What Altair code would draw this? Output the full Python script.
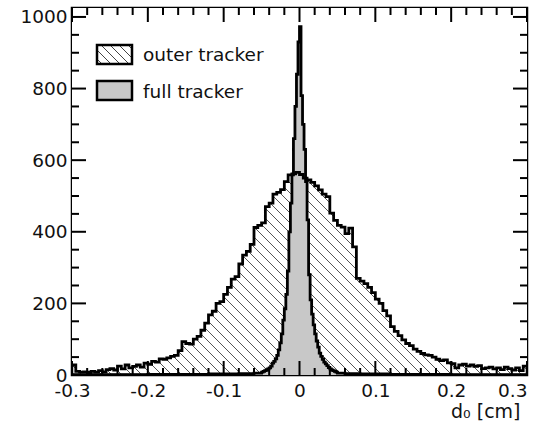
import altair as alt
import pandas as pd
import numpy as np

# ---------------- data ----------------
XMIN, XMAX = -0.3, 0.3
YMAX = 1025
BIN_START = -0.300
BIN_W = 0.005
# outer tracker, 120 bins of 0.005 from -0.3 to 0.3 (counts)
OUTER = [
    28, 10, 8, 9, 7, 10, 8, 12, 9, 15,          # -0.300 .. -0.255
    18, 14, 25, 17, 28, 20, 24, 28, 22, 33,     # -0.250 .. -0.205
    30, 38, 36, 45, 44, 48, 52, 55, 68, 93,     # -0.200 .. -0.155
    88, 86, 100, 108, 125, 145, 168, 178, 200, 205,   # -0.150 .. -0.105
    225, 245, 268, 275, 310, 335, 345, 365, 412, 418, # -0.100 .. -0.055
    425, 470, 480, 505, 510, 518, 540, 559, 562, 566, # -0.050 .. -0.005
    560, 550, 545, 538, 528, 517, 505, 498, 452, 432, #  0.000 ..  0.045
    418, 413, 395, 410, 358, 270, 262, 255, 245, 230, #  0.050 ..  0.095
    212, 200, 180, 165, 135, 122, 110, 98, 88, 82,    #  0.100 ..  0.145
    72, 66, 60, 56, 55, 50, 44, 40, 42, 34,           #  0.150 ..  0.195
    32, 20, 28, 30, 25, 28, 24, 26, 18, 20,           #  0.200 ..  0.245
    22, 17, 20, 15, 22, 18, 14, 20, 12, 25,           #  0.250 ..  0.295
]
# full tracker: coarse tails + fine 0.002 bins in the core
FULL_TAIL_L_X = [-0.300, -0.200, -0.120, -0.080, -0.060]
FULL_TAIL_L_Y = [1, 2, 3, 4, 5]
FULL_FINE_START = -0.050
FULL_FINE_W = 0.002
FULL_FINE = [
    8, 10, 12, 14, 17, 20, 25, 33, 38, 45,
    55, 70, 90, 115, 153, 185, 225, 290, 400, 480,
    559, 660, 750, 840, 930, 973, 780, 700, 630, 540,
    433, 280, 210, 170, 140, 115, 95, 78, 61, 52,
    44, 36, 31, 26, 21, 17, 14, 12, 10, 8,
]
FULL_TAIL_R_X = [0.050, 0.060, 0.080, 0.120, 0.200]
FULL_TAIL_R_Y = [5, 4, 3, 2, 1]

X_LABELS = [-0.3, -0.2, -0.1, 0.0, 0.1, 0.2, 0.3]
Y_LABELS = [0, 200, 400, 600, 800, 1000]
LEGEND = ["outer tracker", "full tracker"]
XTITLE = "d\u2080 [cm]"

# ---------------- layout ----------------
W, H = 455, 367
SX = W / (XMAX - XMIN)
SY = H / YMAX
FONT = "DejaVu Sans"
FS = 18.5


def px2x(px):
    return XMIN + px / SX


def py2y(py):
    return YMAX - py / SY


# histogram tables (left edges, step-after, closing point at right end)
ox = [round(BIN_START + i * BIN_W, 4) for i in range(len(OUTER))] + [XMAX]
oy = OUTER + [OUTER[-1]]
outer_df = pd.DataFrame({"x": ox, "v": oy, "top": YMAX})

fine_x = [round(FULL_FINE_START + i * FULL_FINE_W, 4) for i in range(len(FULL_FINE))]
fx = FULL_TAIL_L_X + fine_x + FULL_TAIL_R_X + [XMAX]
fy = FULL_TAIL_L_Y + FULL_FINE + FULL_TAIL_R_Y + [FULL_TAIL_R_Y[-1]]
full_df = pd.DataFrame({"x": fx, "v": fy})


def hatch_segments(x0, y0, w, h, step, start=None):
    rows = []
    c = -h if start is None else start
    while c < w:
        p0 = max(0, c)
        p1 = min(w, h + c)
        if p1 > p0:
            rows.append({"x": px2x(x0 + p0), "y": py2y(y0 + p0 - c),
                         "x2": px2x(x0 + p1), "y2": py2y(y0 + p1 - c)})
        c += step
    return pd.DataFrame(rows)


hatch_df = hatch_segments(0, 0, W, H, 10)

# inward ticks on all four sides
tick_rows = []
for k in range(31):
    t = round(XMIN + k * 0.02, 3)
    major = (k % 5 == 0)
    L = (14 if major else 7) / SY
    tick_rows.append({"x": t, "y": 0, "x2": t, "y2": L})
    tick_rows.append({"x": t, "y": YMAX, "x2": t, "y2": YMAX - L})
for k in range(21):
    v = k * 50
    major = (k % 4 == 0)
    L = (14 if major else 7) / SX
    tick_rows.append({"x": XMIN, "y": v, "x2": XMIN + L, "y2": v})
    tick_rows.append({"x": XMAX, "y": v, "x2": XMAX - L, "y2": v})
tick_df = pd.DataFrame(tick_rows)

# legend
sw = [(25, 37), (25, 73)]
SWW, SWH = 35, 19
swatch_df = pd.DataFrame([
    {"x": px2x(a), "y": py2y(b), "x2": px2x(a + SWW), "y2": py2y(b + SWH), "k": i}
    for i, (a, b) in enumerate(sw)
])
leg_hatch_df = hatch_segments(sw[0][0], sw[0][1], SWW, SWH, 9, start=-14)
leg_text_df = pd.DataFrame({"x": [px2x(71), px2x(71)],
                            "y": [py2y(47), py2y(84)],
                            "t": LEGEND})

xscale = alt.Scale(domain=[XMIN, XMAX], nice=False, zero=False)
yscale = alt.Scale(domain=[0, YMAX], nice=False, zero=True)

xaxis = alt.Axis(
    values=X_LABELS,
    labelExpr="(datum.value < -0.0001 ? '-' : '') + format(abs(datum.value), '.1~f')",
    labelAlign={"condition": {"test": "datum.value > 0.29", "value": "right"}, "value": "center"},
    ticks=False, domain=False, grid=False,
    labelFont=FONT, labelFontSize=FS, labelColor="#111", labelPadding=6,
    title=XTITLE, titleFont=FONT, titleFontSize=19, titleFontWeight="normal",
    titleColor="#111", titleX=448, titleY=42, titleAlign="right",
    titleBaseline="alphabetic",
)
yaxis = alt.Axis(
    values=Y_LABELS, format="d", ticks=False, domain=False, grid=False,
    labelFont=FONT, labelFontSize=FS, labelColor="#111", labelPadding=5,
    title=None,
)


def X(f="x"):
    return alt.X(f"{f}:Q", scale=xscale, axis=xaxis)


def Y(f="y"):
    return alt.Y(f"{f}:Q", scale=yscale, axis=yaxis)


hatch = alt.Chart(hatch_df).mark_rule(color="#555", strokeWidth=1).encode(
    x=X("x"), y=Y("y"), x2="x2:Q", y2="y2:Q")

mask = alt.Chart(outer_df).mark_area(interpolate="step-after", color="white").encode(
    x=X("x"), y=Y("v"), y2="top:Q")

full_fill = alt.Chart(full_df).mark_area(interpolate="step-after", color="#c8c8c8").encode(
    x=X("x"), y=Y("v"))

outer_line = alt.Chart(outer_df).mark_line(
    interpolate="step-after", color="black", strokeWidth=2.8, strokeJoin="miter").encode(
    x=X("x"), y=Y("v"))

full_line = alt.Chart(full_df).mark_line(
    interpolate="step-after", color="black", strokeWidth=2.8).encode(
    x=X("x"), y=Y("v"))

ticks = alt.Chart(tick_df).mark_rule(color="black", strokeWidth=2).encode(
    x=X("x"), y=Y("y"), x2="x2:Q", y2="y2:Q")

swatch_fill = alt.Chart(swatch_df).mark_rect(stroke=None).encode(
    x=X("x"), y=Y("y"), x2="x2:Q", y2="y2:Q",
    color=alt.Color("k:N", scale=alt.Scale(domain=[0, 1], range=["white", "#c8c8c8"]), legend=None))

leg_hatch = alt.Chart(leg_hatch_df).mark_rule(color="#444", strokeWidth=1).encode(
    x=X("x"), y=Y("y"), x2="x2:Q", y2="y2:Q")

swatch_border = alt.Chart(swatch_df).mark_rect(
    fillOpacity=0, stroke="black", strokeWidth=2.5).encode(
    x=X("x"), y=Y("y"), x2="x2:Q", y2="y2:Q")

leg_text = alt.Chart(leg_text_df).mark_text(
    align="left", baseline="middle", font=FONT, fontSize=FS, color="#111").encode(
    x=X("x"), y=Y("y"), text="t:N")

chart = alt.layer(
    hatch, mask, full_fill, outer_line, full_line, ticks,
    swatch_fill, leg_hatch, swatch_border, leg_text,
).properties(
    width=W, height=H,
    autosize=alt.AutoSizeParams(type="none"),
    padding={"left": 72, "top": 8, "right": 12, "bottom": 48},
    background="white",
).configure_view(
    stroke="black", strokeWidth=2.5,
)

chart.save("out.html", embed_options={"renderer": "svg", "actions": False})
